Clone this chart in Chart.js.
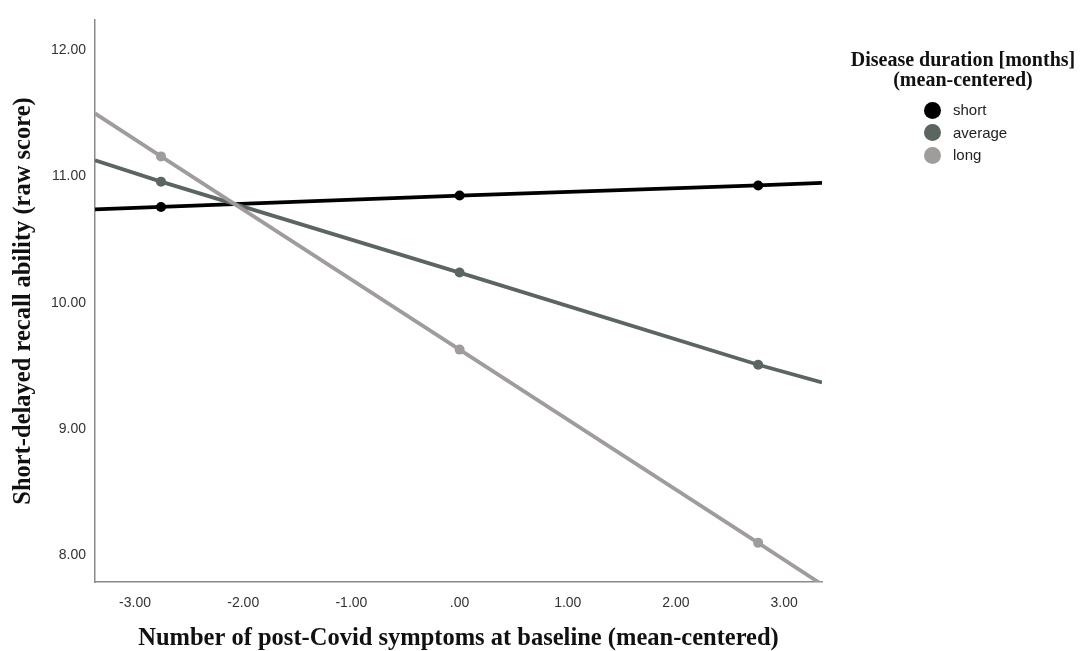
<!DOCTYPE html>
<html>
<head>
<meta charset="utf-8">
<script src="https://cdn.jsdelivr.net/npm/chart.js@4.4.1/dist/chart.umd.min.js"></script>
<style>
  html, body { margin: 0; padding: 0; background: #fff; }
  #wrap { position: relative; width: 1081px; height: 651px; }
  #legend { position: absolute; left: 843px; top: 50px; width: 240px; text-align: center; }
  #legend .title { font-family: "Liberation Serif", serif; font-weight: bold; font-size: 20px; line-height: 19.5px; color: #111; white-space: nowrap; }
  #legend ul { list-style: none; margin: 10px 0 0 0; padding: 0; text-align: left; }
  #legend li { position: relative; height: 22.5px; padding-left: 110px; font-family: "Liberation Sans", Arial, sans-serif; font-size: 15px; line-height: 22px; color: #222; }
  #legend li span.dot { position: absolute; left: 80.5px; top: 2.5px; width: 17px; height: 17px; border-radius: 50%; }
</style>
</head>
<body>
<div id="wrap">
  <canvas id="c" width="1081" height="651"></canvas>
  <div id="legend"></div>
</div>
<script>
// ---- data ----
const xValues      = [-3.37, -2.76, 0.00, 2.76, 3.35];
const shortValues  = [10.74, 10.76, 10.85, 10.93, 10.95];
const averageValues= [11.13, 10.96, 10.24, 9.51, 9.37];
const longValues   = [11.50, 11.16, 9.63, 8.10, 7.77];
const seriesNames  = ['short', 'average', 'long'];
const seriesColors = ['#000000', '#5b6661', '#a09c9c'];
const xTicks       = [-3, -2, -1, 0, 1, 2, 3];
const xTickLabels  = ['-3.00', '-2.00', '-1.00', '.00', '1.00', '2.00', '3.00'];
const yTicks       = [8, 9, 10, 11, 12];
const yTickLabels  = ['8.00', '9.00', '10.00', '11.00', '12.00'];
const legendTitle  = ['Disease duration [months]', '(mean-centered)'];
const xTitle = 'Number of post-Covid symptoms at baseline (mean-centered)';
const yTitle = 'Short-delayed recall ability (raw score)';
const xMin = -3.37, xMax = 3.35, yMin = 7.79, yMax = 12.24;
const markerFlags = [0, 1, 1, 1, 0];

const allSeries = [shortValues, averageValues, longValues];
const datasets = allSeries.map((vals, i) => ({
  label: seriesNames[i],
  data: xValues.map((x, j) => ({ x: x, y: vals[j] })),
  borderColor: seriesColors[i],
  backgroundColor: seriesColors[i],
  borderWidth: 3.8,
  pointRadius: markerFlags.map(f => f ? 5 : 0),
  pointBorderWidth: 0,
  tension: 0,
  order: 3 - i
}));

new Chart(document.getElementById('c'), {
  type: 'line',
  data: { datasets },
  options: {
    responsive: false,
    animation: false,
    events: [],
    layout: { padding: { left: 0, right: 259, top: 20, bottom: 0 } },
    plugins: { legend: { display: false }, tooltip: { enabled: false } },
    scales: {
      x: {
        type: 'linear', min: xMin, max: xMax,
        afterBuildTicks: s => { s.ticks = xTicks.map(v => ({ value: v })); },
        afterFit: s => { s.height = 69; },
        grid: { color: 'transparent', drawTicks: false },
        border: { color: '#8a8a8a', width: 1.5 },
        ticks: {
          padding: 13, color: '#333',
          font: { family: '"Liberation Sans", Arial, sans-serif', size: 14 },
          callback: (v) => xTickLabels[xTicks.indexOf(v)] ?? ''
        },
        title: {
          display: true, text: xTitle, color: '#111',
          font: { family: '"Liberation Serif", serif', weight: 'bold', size: 24.5 },
          padding: { top: 0, bottom: -2 }
        }
      },
      y: {
        type: 'linear', min: yMin, max: yMax,
        afterBuildTicks: s => { s.ticks = yTicks.map(v => ({ value: v })); },
        afterFit: s => { s.width = 95; },
        grid: { color: 'transparent', drawTicks: false },
        border: { color: '#8a8a8a', width: 1.5 },
        ticks: {
          padding: 9, color: '#333',
          font: { family: '"Liberation Sans", Arial, sans-serif', size: 14 },
          callback: (v) => yTickLabels[yTicks.indexOf(v)] ?? ''
        },
        title: {
          display: true, text: yTitle, color: '#111',
          font: { family: '"Liberation Serif", serif', weight: 'bold', size: 24.5 },
          padding: { top: 9, bottom: 0 }
        }
      }
    }
  }
});

// HTML legend built from the series arrays
const lg = document.getElementById('legend');
const t = document.createElement('div');
t.className = 'title';
t.innerHTML = legendTitle.join('<br>');
lg.appendChild(t);
const ul = document.createElement('ul');
seriesNames.forEach((n, i) => {
  const li = document.createElement('li');
  const d = document.createElement('span');
  d.className = 'dot';
  d.style.background = seriesColors[i];
  li.appendChild(d);
  li.appendChild(document.createTextNode(n));
  ul.appendChild(li);
});
lg.appendChild(ul);
</script>
</body>
</html>
